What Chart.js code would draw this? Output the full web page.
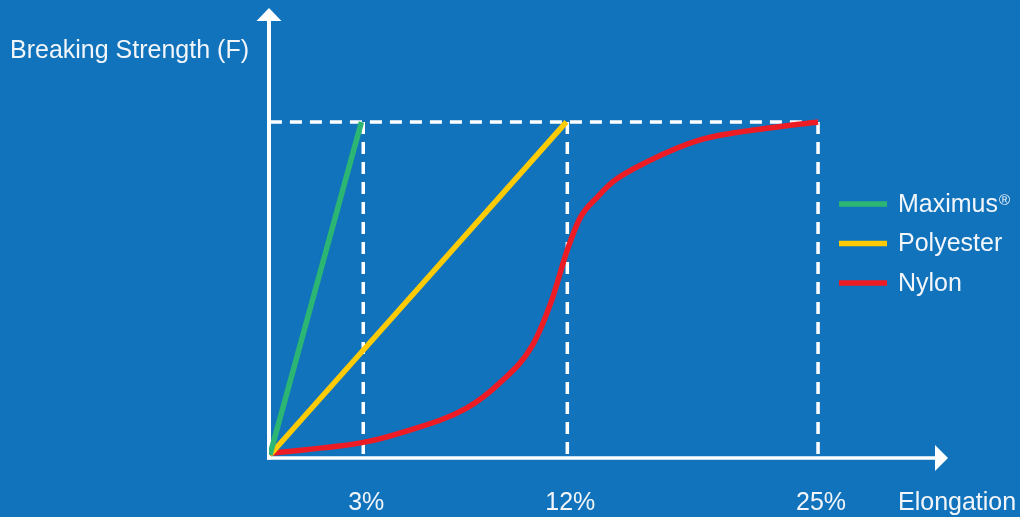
<!DOCTYPE html>
<html>
<head>
<meta charset="utf-8">
<script src="https://cdn.jsdelivr.net/npm/chart.js@4.4.1/dist/chart.umd.min.js"></script>
<style>
  html, body { margin: 0; padding: 0; background: #1173bc; }
  #wrap { width: 1020px; height: 517px; }
</style>
</head>
<body>
<div id="wrap"><canvas id="myChart" width="1020" height="517"></canvas></div>
<script>
// tick labels and where they sit on the (non linear) elongation axis
const elongTicks = ['3%', '12%', '25%'];
const elongPos = [1.02, 3.25, 5.99];

// series (x = elongation position, y = breaking strength, 1 = F)
const maximusX = [0, 1.0];
const maximusY = [0, 1];
const polyesterX = [0, 3.24];
const polyesterY = [0, 1];
const nylonX = [0, 1.02, 1.42, 2.15, 2.51, 2.87, 3.08, 3.25, 3.39, 3.57, 3.75, 4.12, 4.70, 5.43, 5.99];
const nylonY = [0.005, 0.038, 0.066, 0.141, 0.216, 0.330, 0.465, 0.616, 0.712, 0.772, 0.821, 0.880, 0.946, 0.981, 1.0];

const seriesNames = ['Maximus®', 'Polyester', 'Nylon'];
const seriesColors = ['#2bb673', '#ffcb05', '#ed1c24'];

const FONT = '"Liberation Sans", Arial, sans-serif';
const TEXT = '#f2f6fa';

const toPts = (xs, ys) => xs.map((x, i) => ({ x: x, y: ys[i] }));

// dashed guide lines: top level + one vertical per tick
const guides = [{
    data: [{ x: 0, y: 1 }, { x: elongPos[elongPos.length - 1], y: 1 }]
}];
elongPos.forEach(p => {
    guides.push({ data: [{ x: p, y: 1 }, { x: p, y: -0.009 }] });
});

const guideSets = guides.map(g => ({
    data: g.data,
    borderColor: '#ffffff',
    borderWidth: 3.5,
    borderDash: [12, 8],
    pointRadius: 0,
    isGuide: true,
    order: 5
}));

const lineSets = [
    toPts(maximusX, maximusY),
    toPts(polyesterX, polyesterY),
    toPts(nylonX, nylonY)
].map((pts, i) => ({
    label: seriesNames[i],
    data: pts,
    borderColor: seriesColors[i],
    borderWidth: 5.5,
    pointRadius: 0,
    cubicInterpolationMode: 'monotone',
    order: 1
}));

const axesPlugin = {
    id: 'axesPlugin',
    beforeDatasetsDraw(chart) {
        const ctx = chart.ctx;
        const a = chart.chartArea;
        ctx.save();
        ctx.strokeStyle = '#ffffff';
        ctx.fillStyle = '#ffffff';
        // y axis
        ctx.lineWidth = 4;
        ctx.beginPath();
        ctx.moveTo(a.left, a.bottom + 1.5);
        ctx.lineTo(a.left, a.top + 12);
        ctx.stroke();
        ctx.beginPath();
        ctx.moveTo(a.left, a.top);
        ctx.lineTo(a.left + 12.5, a.top + 13);
        ctx.lineTo(a.left - 12.5, a.top + 13);
        ctx.closePath();
        ctx.fill();
        // x axis
        ctx.lineWidth = 3.5;
        ctx.beginPath();
        ctx.moveTo(a.left - 2, a.bottom);
        ctx.lineTo(a.right - 12, a.bottom);
        ctx.stroke();
        ctx.beginPath();
        ctx.moveTo(a.right, a.bottom);
        ctx.lineTo(a.right - 13, a.bottom - 13);
        ctx.lineTo(a.right - 13, a.bottom + 13);
        ctx.closePath();
        ctx.fill();
        ctx.restore();
    },
    afterDraw(chart) {
        const ctx = chart.ctx;
        const xs = chart.scales.x;
        ctx.save();
        ctx.fillStyle = TEXT;
        ctx.font = '25px ' + FONT;
        ctx.textBaseline = 'alphabetic';
        ctx.textAlign = 'left';
        ctx.fillText('Breaking Strength (F)', 10, 58);
        ctx.fillText('Elongation', 898, 510);
        // tick labels on the elongation axis
        ctx.textAlign = 'center';
        elongPos.forEach((p, i) => {
            ctx.fillText(elongTicks[i], xs.getPixelForValue(p) + 3, 510);
        });
        ctx.textAlign = 'left';
        // legend
        chart.data.datasets.forEach((ds, i) => {
            if (ds.isGuide) return;
            const y = 204 + i * 39.5;
            ctx.strokeStyle = ds.borderColor;
            ctx.lineWidth = 5.5;
            ctx.beginPath();
            ctx.moveTo(839, y);
            ctx.lineTo(887, y);
            ctx.stroke();
            ctx.fillStyle = TEXT;
            ctx.textBaseline = 'middle';
            let name = ds.label;
            if (name.endsWith('®')) {
                name = name.slice(0, -1);
                ctx.font = '25px ' + FONT;
                ctx.fillText(name, 898, y + 1);
                const w = ctx.measureText(name).width;
                ctx.font = '15px ' + FONT;
                ctx.fillText('®', 898 + w + 1, y - 3);
            } else {
                ctx.font = '25px ' + FONT;
                ctx.fillText(name, 898, y + 1);
            }
        });
        ctx.restore();
    }
};

const ctx = document.getElementById('myChart').getContext('2d');
window.myChart = new Chart(ctx, {
    type: 'line',
    data: { datasets: lineSets.concat(guideSets) },
    options: {
        responsive: false,
        animation: false,
        layout: { padding: { left: 269, right: 72, top: 8, bottom: 59 } },
        plugins: {
            legend: { display: false },
            tooltip: { enabled: false }
        },
        scales: {
            x: {
                type: 'linear',
                display: false,
                min: -0.01,
                max: 7.41
            },
            y: {
                type: 'linear',
                display: false,
                min: -0.009,
                max: 1.342
            }
        }
    },
    plugins: [axesPlugin]
});
</script>
</body>
</html>
